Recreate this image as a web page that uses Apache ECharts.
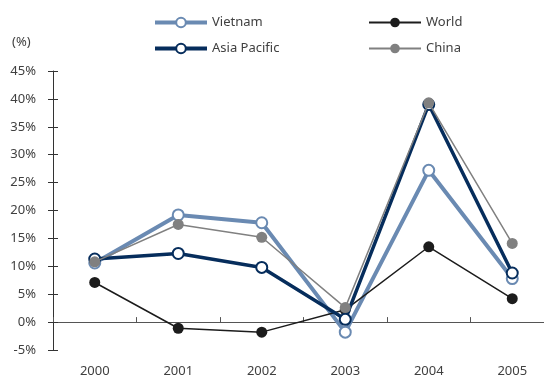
<!DOCTYPE html>
<html>
<head>
<meta charset="utf-8">
<script src="https://cdn.jsdelivr.net/npm/echarts@6/dist/echarts.min.js"></script>
<style>
  html, body { margin: 0; padding: 0; background: #fff; }
  #chart { width: 544px; height: 378px; }
</style>
</head>
<body>
<div id="chart"></div>
<script>
// Annual growth rates (%) by region
const years = ['2000', '2001', '2002', '2003', '2004', '2005'];
const vietnam = [10.6, 19.2, 17.8, -1.8, 27.2, 7.8];
const world = [7.1, -1.1, -1.8, 2.2, 13.5, 4.2];
const asiaPacific = [11.3, 12.3, 9.8, 0.5, 39.0, 8.8];
const china = [10.8, 17.5, 15.2, 2.6, 39.3, 14.1];
const yTicks = { min: -5, max: 45, step: 5 };

const FONT = 'Noto Sans';
const TXT = '#404040';

const chart = echarts.init(document.getElementById('chart'));

function legendItem(name, left, top, lineWidth) {
  return {
    data: [name], left: left, top: top, padding: 0,
    itemWidth: 52, itemHeight: 12, itemGap: 4,
    selectedMode: false,
    lineStyle: { width: lineWidth },
    textStyle: { fontFamily: FONT, fontSize: 13, color: TXT }
  };
}

chart.setOption({
  animation: false,
  textStyle: { fontFamily: FONT },
  grid: { left: 53, top: 71, right: -10, bottom: 28, containLabel: false, outerBoundsMode: 'none' },
  legend: [
    legendItem('Vietnam', 153, 16, 4),
    legendItem('World', 368, 16, 2),
    legendItem('Asia Pacific', 153, 42, 4),
    legendItem('China', 368, 42, 2)
  ],
  graphic: [{
    type: 'text', left: 12, top: 36,
    style: { text: '(%)', font: '13px "Noto Sans"', fill: TXT }
  }],
  xAxis: [
    {
      type: 'category', data: years, boundaryGap: true,
      axisLine: { show: false }, axisTick: { show: false },
      axisLabel: { fontFamily: FONT, fontSize: 13, color: TXT, margin: 15 }
    },
    {
      type: 'category', data: years, boundaryGap: true, position: 'bottom',
      axisLine: { onZero: true, lineStyle: { color: '#555', width: 1 } },
      axisTick: { show: true, inside: true, length: 5, lineStyle: { color: '#555' } },
      axisLabel: { show: false }
    }
  ],
  yAxis: [
    {
      type: 'value', min: yTicks.min, max: yTicks.max, interval: yTicks.step,
      splitLine: { show: false },
      axisLine: { show: true, onZero: false, lineStyle: { color: '#333' } },
      axisTick: { show: true, inside: true, length: 5, lineStyle: { color: '#333' } },
      axisLabel: { fontFamily: FONT, fontSize: 13, color: TXT, margin: 17, formatter: '{value}%' }
    },
    {
      // outer half of the tick marks
      type: 'value', min: yTicks.min, max: yTicks.max, interval: yTicks.step,
      position: 'left',
      splitLine: { show: false },
      axisLine: { show: false, onZero: false },
      axisTick: { show: true, length: 5, lineStyle: { color: '#333' } },
      axisLabel: { show: false }
    }
  ],
  series: [
    {
      name: 'Vietnam', type: 'line', data: vietnam, z: 2,
      symbol: 'emptyCircle', symbolSize: 11,
      lineStyle: { color: '#6a8ab2', width: 4 },
      itemStyle: { color: '#6a8ab2', borderColor: '#6a8ab2', borderWidth: 3 }
    },
    {
      name: 'World', type: 'line', data: world, z: 3,
      symbol: 'circle', symbolSize: 11,
      lineStyle: { color: '#1c1c1c', width: 1.5 },
      itemStyle: { color: '#1c1c1c' }
    },
    {
      name: 'Asia Pacific', type: 'line', data: asiaPacific, z: 4,
      symbol: 'emptyCircle', symbolSize: 11,
      lineStyle: { color: '#062d5c', width: 3.5 },
      itemStyle: { color: '#062d5c', borderColor: '#062d5c', borderWidth: 3 }
    },
    {
      name: 'China', type: 'line', data: china, z: 5,
      symbol: 'circle', symbolSize: 11,
      lineStyle: { color: '#808080', width: 1.5 },
      itemStyle: { color: '#808080' }
    }
  ]
});
</script>
</body>
</html>
